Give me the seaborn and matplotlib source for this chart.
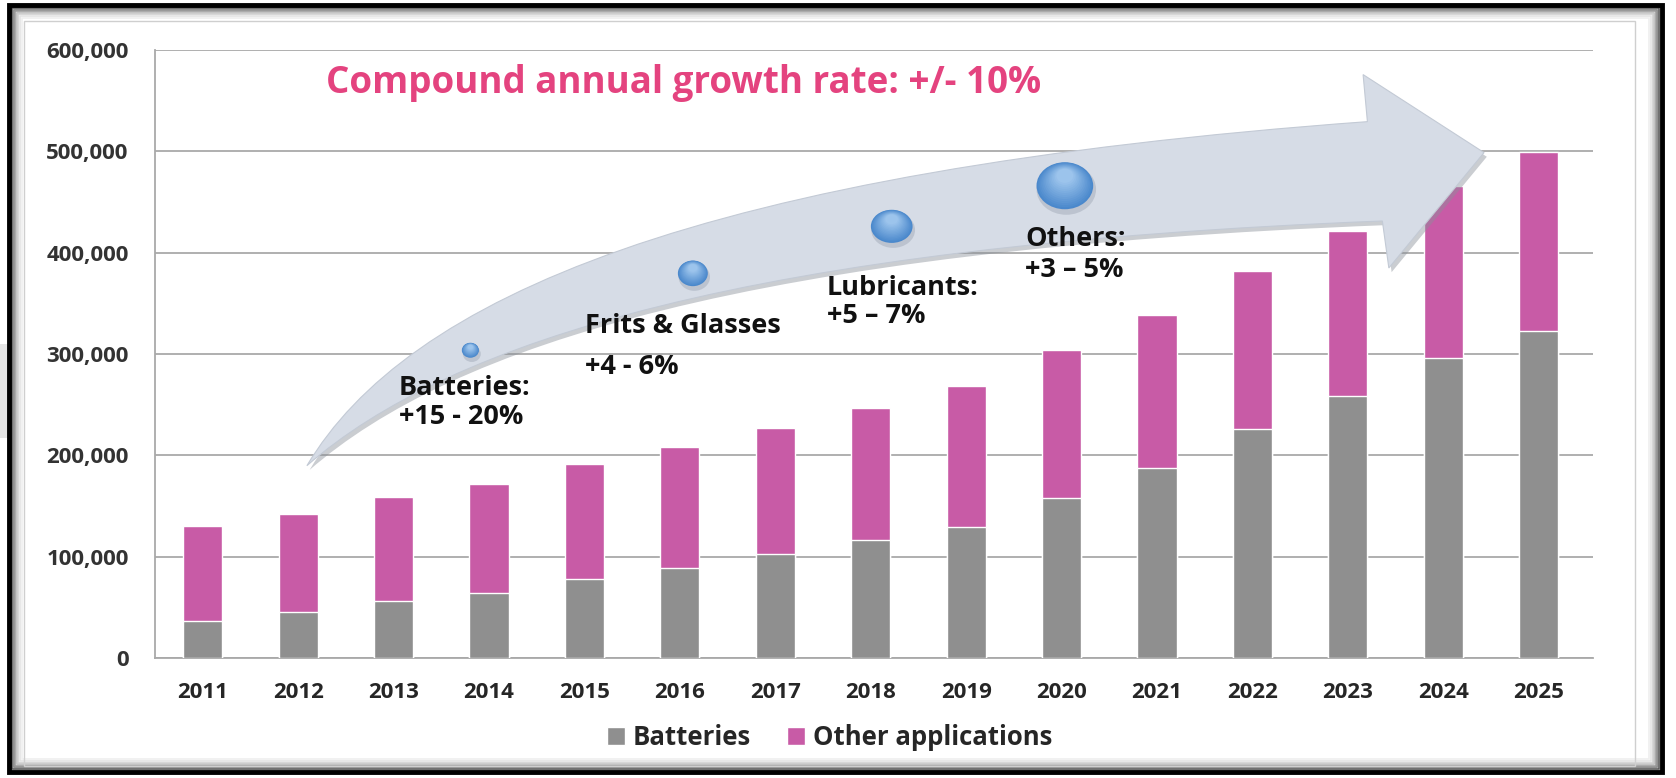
import matplotlib
matplotlib.use("Agg")
import matplotlib.pyplot as plt
import matplotlib.patheffects as pe
from matplotlib.colors import to_rgb
from matplotlib.patches import Patch, Ellipse, PathPatch, Rectangle
from matplotlib.path import Path
import numpy as np
import seaborn as sns

years = ["2011", "2012", "2013", "2014", "2015", "2016", "2017", "2018",
         "2019", "2020", "2021", "2022", "2023", "2024", "2025"]
batteries = [37000, 45000, 56000, 64000, 78000, 89000, 103000, 116000,
             129000, 158000, 188000, 226000, 259000, 296000, 323000]
other_apps = [93000, 97000, 103000, 108000, 113000, 119000, 124000, 131000,
              139000, 146000, 151000, 156000, 162000, 170000, 176000]
y_ticks = [0, 100000, 200000, 300000, 400000, 500000, 600000]

# growth notes written along the arrow (name, rate)
segments = [("Batteries:", "+15 - 20%"), ("Frits & Glasses", "+4 - 6%"),
            ("Lubricants:", "+5 \u2013 7%"), ("Others:", "+3 \u2013 5%")]
cagr_text = "Compound annual growth rate: +/- 10%"

GRAY = "#8f8f8f"
PINK = "#c85ba6"
TITLE_PINK = "#e4437f"
GRID = "#a9a9a9"
FONT = ["Open Sans", "DejaVu Sans"]

sns.set_style("white")
plt.rcParams["font.family"] = FONT

totals = np.array(batteries) + np.array(other_apps)

fig = plt.figure(figsize=(16.76, 7.78), dpi=100)
ax = fig.add_axes([0.0925, 0.1542, 0.8580, 0.7815])

# stacked bars: total in pink, batteries drawn over it in gray
sns.barplot(x=years, y=totals, color=PINK, saturation=1, width=0.41,
            errorbar=None, ax=ax, zorder=3)
sns.barplot(x=years, y=batteries, color=GRAY, saturation=1, width=0.41,
            errorbar=None, ax=ax, zorder=3)

ax.set_ylim(0, 600000)
ax.set_xlim(-0.45, 14.57)
ax.set_yticks(y_ticks)
ax.set_yticklabels([f"{v:,}" for v in y_ticks])
ax.set_xlabel("")
ax.set_ylabel("")
ax.grid(axis="y", color=GRID, lw=1.3, zorder=0)
ax.set_axisbelow(True)
for s in ["top", "right"]:
    ax.spines[s].set_visible(False)
for s in ["left", "bottom"]:
    ax.spines[s].set_color(GRID)
    ax.spines[s].set_linewidth(1.3)

ax.tick_params(axis="y", length=5, color=GRID, pad=14, labelsize=16, labelcolor="#333333")
ax.tick_params(axis="x", length=0, pad=17, labelsize=16, labelcolor="#262626")
ax.set_xticks(np.arange(-0.5, 15, 1), minor=True)
ax.tick_params(axis="x", which="minor", length=6, color=GRID, width=1.2)
for lbl in ax.get_xticklabels() + ax.get_yticklabels():
    lbl.set_fontweight("bold")

# curved growth arrow, laid over the bars like the slide shape
verts = [(0.1056, 0.3163), (0.1747, 0.5905), (0.3755, 0.8014), (0.8431, 0.8822),
         (0.8401, 0.9596), (0.9242, 0.8313), (0.8580, 0.6415), (0.8535, 0.7188),
         (0.4126, 0.6784), (0.2045, 0.5202), (0.1056, 0.3163), (0.1056, 0.3163)]
codes = [Path.MOVETO, Path.CURVE4, Path.CURVE4, Path.CURVE4,
         Path.LINETO, Path.LINETO, Path.LINETO, Path.LINETO,
         Path.CURVE4, Path.CURVE4, Path.CURVE4, Path.CLOSEPOLY]
arrow = PathPatch(Path(verts, codes), transform=ax.transAxes, facecolor="#d6dce6",
                  edgecolor="#c3cad5", lw=0.8, zorder=4)
arrow.set_path_effects([pe.SimplePatchShadow(offset=(2, -3), shadow_rgbFace="#8a9099", alpha=0.45),
                        pe.Normal()])
ax.add_patch(arrow)

# blue bubbles along the arrow, soft gradient from stacked ellipses
bubble_xy = [(0.2193, 0.5062), (0.5123, 0.7100), (0.6327, 0.7768), (0.3740, 0.6327)]
bubble_r = [(8, 7), (19.5, 15.5), (26.5, 22), (14, 12)]
dark, light = np.array(to_rgb("#4a88cc")), np.array(to_rgb("#9cc4ec"))
for (cx, cy), (rx, ry) in zip(bubble_xy, bubble_r):
    w, h = 2 * rx / 1345, 2 * ry / 569
    ax.add_patch(Ellipse((cx + 0.001, cy - 0.006), w * 1.05, h * 1.08, transform=ax.transAxes,
                         facecolor="#8c96a6", alpha=0.35, lw=0, zorder=5))
    for k, f in enumerate(np.linspace(0, 1, 14)):
        sc = 1 - 0.7 * f
        ax.add_patch(Ellipse((cx, cy + h * (1 - sc) * 0.3), w * sc, h * sc,
                             transform=ax.transAxes, facecolor=dark + (light - dark) * f,
                             lw=0, zorder=5.1 + k * 0.001))

ax.text(0.119, 0.9455, cagr_text, transform=ax.transAxes, color=TITLE_PINK,
        fontsize=26.5, fontweight="bold", va="center", ha="left", zorder=6)

lab_kw = dict(transform=ax.transAxes, fontsize=19.5, fontweight="bold", color="#111111",
              ha="left", va="center", zorder=6)
label_pos = [(0.1695, 0.4446, 0.3972), (0.2989, 0.5460, 0.4780),
             (0.4670, 0.6081, 0.5624), (0.6050, 0.6889, 0.6379)]
for (name, rate), (lx, y1, y2) in zip(segments, label_pos):
    ax.text(lx, y1, name, **lab_kw)
    ax.text(lx, y2, rate, **lab_kw)

handles = [Patch(facecolor=GRAY, label="Batteries"), Patch(facecolor=PINK, label="Other applications")]
fig.legend(handles=handles, loc="center", bbox_to_anchor=(0.495, 0.052), ncol=2, frameon=False,
           prop=dict(family=FONT, weight="bold", size=18.5), handlelength=0.7, handleheight=0.7,
           handletextpad=0.3, columnspacing=1.4)

# slide frame: black border with soft inner shadow and thin gray panel edge
W, H = 1676.0, 778.0
fig.add_artist(Rectangle((0, 1 - 438 / H), 9 / W, 94 / H, transform=fig.transFigure,
                         facecolor="#e4e4e4", lw=0))
for i, c in enumerate(["#555555", "#7a7a7a", "#9b9b9b", "#b8b8b8", "#d0d0d0", "#e3e3e3", "#efefef"]):
    x0, y0, x1, y1 = 12 + i * 1.6, 8 + i * 1.6, 1659 - i * 1.6, 769 - i * 1.6
    fig.add_artist(Rectangle((x0 / W, 1 - y1 / H), (x1 - x0) / W, (y1 - y0) / H,
                             transform=fig.transFigure, fill=False, edgecolor=c, lw=1.2))
fig.add_artist(Rectangle((9 / W, 1 - 772 / H), 1653 / W, 767 / H, transform=fig.transFigure,
                         fill=False, edgecolor="black", lw=3.5))
fig.add_artist(Rectangle((24 / W, 1 - 766 / H), 1611 / W, 745 / H, transform=fig.transFigure,
                         fill=False, edgecolor="#cfcfcf", lw=1.0))

fig.savefig("out.png", dpi=100)
